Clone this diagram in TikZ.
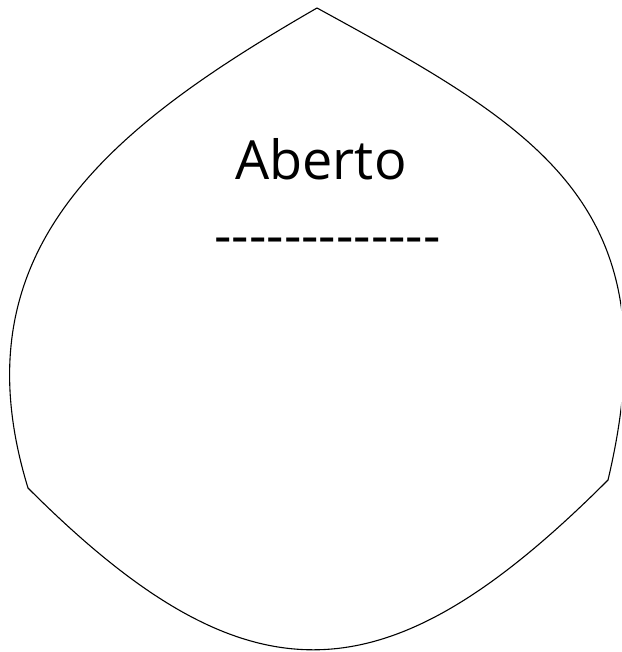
\documentclass[tikz,border=0pt]{standalone}
\usepackage{fontspec}
\setmainfont[Ligatures=TeXOff]{Open Sans}
\begin{document}
\begin{tikzpicture}[x=1pt, y=-1pt]
    % The Frame
    \clip (0,0) rectangle (621,652);

    % The Drop
    \draw[line width=1.1pt] (317,8) .. controls (109,128) and (-45,250) .. (28,488)
        .. controls (249,709) and (387,701) .. (608,480)
        .. controls (673,205) and (540,130) .. (317,8) -- cycle;

    % The Label
    \node[anchor=base, inner sep=0pt, font=\fontsize{54}{60}\selectfont] (titulo) at (321,180) {Aberto};
    \node[anchor=base, inner sep=0pt, font=\fontsize{54}{60}\selectfont] (tracos) at (327.5,254) {-------------};
\end{tikzpicture}
\end{document}
